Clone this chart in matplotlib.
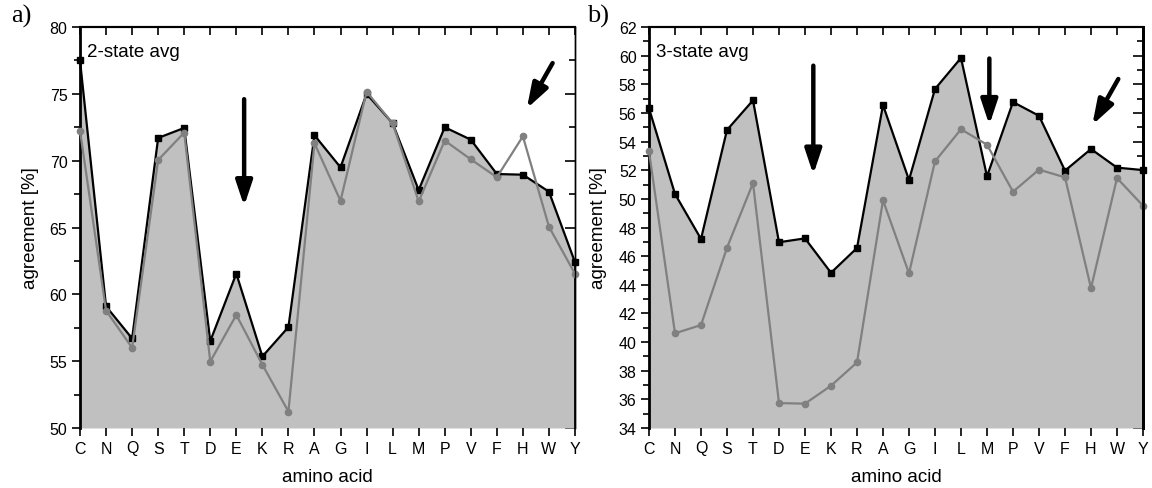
import matplotlib
matplotlib.use("Agg")
import matplotlib.pyplot as plt
import numpy as np

plt.rcParams['font.family'] = ['Liberation Sans', 'DejaVu Sans']

aa = ['C', 'N', 'Q', 'S', 'T', 'D', 'E', 'K', 'R', 'A', 'G', 'I', 'L', 'M', 'P', 'V', 'F', 'H', 'W', 'Y']

# 2-state averages
a_black = [77.5, 59.1, 56.7, 71.7, 72.45, 56.5, 61.55, 55.35, 57.55, 71.9,
           69.5, 75.0, 72.8, 67.8, 72.5, 71.57, 69.0, 68.95, 67.68, 62.4]
a_gray = [72.25, 58.78, 56.0, 70.05, 72.1, 54.97, 58.46, 54.74, 51.23, 71.3,
          67.0, 75.16, 72.8, 66.95, 71.5, 70.1, 68.76, 71.82, 65.06, 61.53]

# 3-state averages
b_black = [56.32, 50.34, 47.2, 54.81, 56.88, 46.97, 47.24, 44.84, 46.57, 56.55,
           51.32, 57.67, 59.84, 51.57, 56.76, 55.8, 51.97, 53.48, 52.18, 52.01]
b_gray = [53.32, 40.61, 41.19, 46.59, 51.1, 35.74, 35.7, 36.95, 38.58, 49.9,
          44.8, 52.62, 54.86, 53.78, 50.5, 52.04, 51.5, 43.77, 51.45, 49.52]

x = np.arange(len(aa))

fig = plt.figure(figsize=(11.52, 4.89), dpi=100)
axa = fig.add_axes([80/1152, 1-429/489, 495/1152, 401/489])
axb = fig.add_axes([649/1152, 1-429/489, 494/1152, 401/489])


def panel(ax, black, gray, ylim, major, minor, label, tag, tagx, arrows, rspine):
    ax.set_xlim(0, len(aa) - 1)
    ax.set_ylim(*ylim)
    ax.fill_between(x, black, ylim[0], color='#c0c0c0', lw=0, zorder=1)
    ax.vlines(x[-1], ylim[0], black[-1], color='k', lw=2, zorder=3)
    ax.plot(x, black, color='k', lw=1.6, marker='s', ms=4, zorder=3, clip_on=False)
    ax.plot(x, gray, color='#808080', lw=1.6, marker='o', ms=4.5, zorder=4, clip_on=False)

    ax.set_xticks(x)
    ax.set_xticklabels(aa, fontsize=11.5)
    yt = np.arange(ylim[0], ylim[1] + 0.01, major)
    ax.set_yticks(yt)
    ax.set_yticks(np.arange(ylim[0], ylim[1] + 0.01, minor), minor=True)
    ax.set_yticklabels(['%d' % v for v in yt], fontsize=11.5)
    ax.tick_params(axis='both', which='major', direction='out', length=6, width=1.2, pad=3)
    ax.tick_params(axis='y', which='minor', direction='out', length=4, width=1.2)
    ax.spines['bottom'].set_visible(False)
    ax.spines['left'].set_linewidth(2)
    ax.spines['top'].set_linewidth(1.5)
    ax.spines['right'].set_linewidth(rspine)
    ax.spines['right'].set_zorder(5)

    top = ax.secondary_xaxis('top')
    top.set_xticks(x)
    top.set_xticklabels([])
    top.tick_params(direction='in', length=6, width=1.2)
    top.spines['top'].set_linewidth(1.5)
    right = ax.secondary_yaxis('right')
    right.set_yticks(yt)
    right.set_yticks(np.arange(ylim[0], ylim[1] + 0.01, minor), minor=True)
    right.set_yticklabels([])
    right.tick_params(which='major', direction='in', length=7, width=1.2)
    right.tick_params(which='minor', direction='in', length=4, width=1.2)
    right.spines['right'].set_linewidth(rspine)

    ax.set_xlabel('amino acid', fontsize=13.5, labelpad=9)
    ax.set_ylabel('agreement [%]', fontsize=13.5, labelpad=8)
    ax.text(0.015, 0.94, label, transform=ax.transAxes, fontsize=13.5, va='center', ha='left')
    fig.text(tagx, 1 - 16/489, tag, fontsize=19, family=['Liberation Serif', 'DejaVu Serif'],
             va='center', ha='left')

    for (x0, y0), (x1, y1) in arrows:
        ax.annotate('', xy=(x1, y1), xytext=(x0, y0),
                    arrowprops=dict(arrowstyle='-|>,head_length=1.5,head_width=0.5',
                                    lw=3.2, color='k', shrinkA=0, shrinkB=0), zorder=6)


panel(axa, a_black, a_gray, (50, 80), 5, 2.5, '2-state avg', 'a)', 11/1152,
      [((6.3, 74.6), (6.3, 66.6)), ((18.14, 77.3), (17.15, 73.9))], 1.0)
panel(axb, b_black, b_gray, (34, 62), 2, 1, '3-state avg', 'b)', 587/1152,
      [((6.32, 59.3), (6.32, 51.7)), ((13.09, 59.8), (13.09, 55.16)),
       ((18.05, 58.37), (17.05, 55.16))], 2.0)

fig.savefig('out.png', dpi=100)
